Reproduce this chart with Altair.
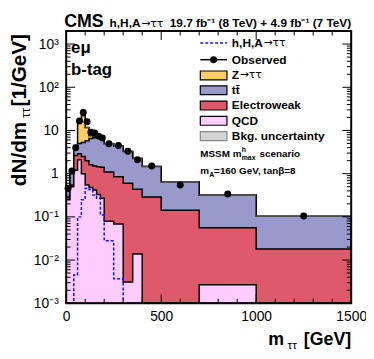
import altair as alt
import pandas as pd
import numpy as np

# ---- data (dN/dm in 1/GeV) ----
edges = [0, 20, 40, 60, 80, 100, 120, 140, 160, 180, 200, 250, 300, 350, 400, 500, 700, 1000, 1500]
qcd = [0.25, 0.50, 1.20, 2.10, 1.00, 0.55, 0.48, 0.42, 0.33, 0.27, 0.079, 0.068, 0.0031, 0.0138, 0, 0, 0.0027, 0]
ewk = [0.03, 0.05, 1.45, 0.80, 1.50, 1.45, 1.12, 1.08, 1.12, 1.13, 1.02, 0.78, 0.60, 0.42, 0.29, 0.142, 0.053, 0.018]
ttbar = [0.12, 0.55, 1.65, 2.10, 2.80, 3.80, 4.90, 5.30, 5.45, 5.10, 3.80, 3.45, 2.65, 1.80, 1.17, 0.50, 0.262, 0.085]
ztt = [0.005, 0.05, 0.20, 11.6, 16.7, 5.9, 1.0, 0.5, 0.2, 0.1, 0.05, 0.03, 0.02, 0.01, 0.01, 0.005, 0.002, 0.001]
signal = [0, 0, 0.0045, 0.10, 0.25, 0.46, 0.43, 0.32, 0.27, 0.11, 0.028, 0.0037, 0, 0, 0, 0, 0, 0]
observed = [0.46, 1.15, 4.0, 16.6, 26, 16, 9.1, 8.7, 7.4, 6.7, 4.9, 4.5, 3.3, 2.1, 1.5, 0.55, 0.34, 0.105]
unc_frac = 0.05

x_tick_labels = [0, 500, 1000, 1500]
y_tick_values = [1e-3, 1e-2, 1e-1, 1, 10, 100, 1000]

FONT = "Liberation Sans"
SYM = "DejaVu Sans"
W, H = 289, 276
YMIN, YMAX = 0.001, 2000
C_ZTT, C_TT, C_EWK, C_QCD = "#FFCC66", "#9999CC", "#DE5A6A", "#FFCCFF"

lo = np.array(edges[:-1], float)
hi = np.array(edges[1:], float)
qc_top = np.array(qcd)
ew_top = qc_top + np.array(ewk)
tt_top = ew_top + np.array(ttbar)
tot_top = tt_top + np.array(ztt)


def step_df(vals):
    v = np.maximum(np.asarray(vals, float), YMIN)
    return pd.DataFrame({"x": edges, "y": list(v) + [v[-1]]})


xs = alt.Scale(domain=[0, 1500], nice=False, zero=False)
ys = alt.Scale(type="log", domain=[YMIN, YMAX], nice=False)

label_expr = ("datum.value >= 999 ? '10³' : datum.value >= 99 ? '10²' : datum.value >= 9 ? '10' : "
              "datum.value >= 0.9 ? '1' : datum.value >= 0.09 ? '10⁻¹' : datum.value >= 0.009 ? '10⁻²' : '10⁻³'")
xaxis = alt.Axis(values=x_tick_labels, ticks=False, domain=False, grid=False, title=None,
                 labelFont=FONT, labelFontSize=14, labelColor="black", labelPadding=6,
                 labelFlush=False, format="d", labelOverlap=False)
yaxis = alt.Axis(values=y_tick_values, ticks=False, domain=False, grid=False, title=None,
                 labelFont=FONT, labelFontSize=14, labelColor="black", labelPadding=8,
                 labelFlush=False, labelExpr=label_expr, labelOverlap=False)


def X(f):
    return alt.X(f, scale=xs, axis=xaxis)


def Y(f):
    return alt.Y(f, scale=ys, axis=yaxis)


layers = []
for vals, col in [(tot_top, C_ZTT), (tt_top, C_TT), (ew_top, C_EWK), (qc_top, C_QCD)]:
    layers.append(
        alt.Chart(step_df(vals)).mark_area(interpolate="step-after", color=col, stroke="black",
                                           strokeWidth=1.5, clip=True, opacity=1).encode(
            x=X("x:Q"), y=Y("y:Q"), y2=alt.datum(YMIN))
    )

bins = pd.DataFrame({"lo": lo, "hi": hi, "mid": (lo + hi) / 2, "tot": tot_top,
                     "dn": tot_top * (1 - unc_frac), "up": tot_top * (1 + unc_frac),
                     "obs": observed})

layers.append(alt.Chart(bins).mark_rect(fill="#8c8c8c", opacity=0.55, clip=True).encode(
    x=X("lo:Q"), x2="hi:Q", y=Y("dn:Q"), y2="up:Q"))

layers.append(alt.Chart(step_df(signal)).mark_line(interpolate="step-after", color="#1010FF",
                                                   strokeWidth=1.5, strokeDash=[3, 2], clip=True).encode(
    x=X("x:Q"), y=Y("y:Q")))

layers.append(alt.Chart(bins).mark_circle(color="black", size=50, opacity=1).encode(
    x=X("mid:Q"), y=Y("obs:Q")))

# frame
one = pd.DataFrame({"k": [0]})
layers.append(alt.Chart(one).mark_rect(filled=False, stroke="black", strokeWidth=2).encode(
    x=alt.value(0), x2=alt.value(W), y=alt.value(0), y2=alt.value(H)))

# inner ticks (ROOT style)
ymaj = pd.DataFrame({"v": y_tick_values})
ymin_vals = [m * 10.0 ** k for k in range(-3, 4) for m in range(2, 10) if m * 10.0 ** k <= YMAX]
ymin_df = pd.DataFrame({"v": ymin_vals})
xmaj = pd.DataFrame({"v": [0, 500, 1000, 1500]})
xmin_df = pd.DataFrame({"v": [v for v in range(100, 1500, 100) if v % 500]})
for df, L in [(ymaj, 9), (ymin_df, 4.5)]:
    for a, b in [(0, L), (W - L, W)]:
        layers.append(alt.Chart(df).mark_rule(color="black", strokeWidth=1).encode(
            y=Y("v:Q"), x=alt.value(a), x2=alt.value(b)))
for df, L in [(xmaj, 9), (xmin_df, 4.5)]:
    for a, b in [(H - L, H), (0, L)]:
        layers.append(alt.Chart(df).mark_rule(color="black", strokeWidth=1).encode(
            x=X("v:Q"), y=alt.value(a), y2=alt.value(b)))


def txt(s, x, y, size, bold=True, align="left", baseline="alphabetic", angle=0, color="black", font=FONT):
    return alt.Chart(one).mark_text(text=s, font=font, fontSize=size,
                                    fontWeight="bold" if bold else "normal", align=align,
                                    baseline=baseline, angle=angle, color=color).encode(
        x=alt.value(x), y=alt.value(y))


# header
layers.append(txt("CMS", -2, -4, 18))
layers.append(txt("h,H,A", 44, -4, 12))
layers.append(txt("→ττ", 76, -4, 11, bold=False, font=SYM))
layers.append(txt("19.7 fb⁻¹ (8 TeV) + 4.9 fb⁻¹ (7 TeV)", 289, -4, 12, align="right"))

# category labels
layers.append(txt("eμ", 5, 17, 17, baseline="middle"))
layers.append(txt("b-tag", 5, 40, 17, baseline="middle"))

# axis titles
layers.append(txt("[GeV]", 289, 318, 18, align="right"))
layers.append(txt("ττ", 234, 322, 12, bold=False, align="right"))
layers.append(txt("m", 221, 318, 18, align="right"))

YT = -47
layers.append(txt("[1/GeV]", YT, 3, 21, align="right", baseline="middle", angle=270))
layers.append(txt("ττ", YT + 6, 78, 13, bold=False, align="right", baseline="middle", angle=270))
layers.append(txt("dN/dm", YT, 92, 21, align="right", baseline="middle", angle=270))

# legend
LX0, LX1, LT = 136, 163, 168
layers.append(alt.Chart(one).mark_rule(color="#1010FF", strokeWidth=1.5, strokeDash=[3, 2]).encode(
    x=alt.value(LX0), x2=alt.value(LX1), y=alt.value(12)))
layers.append(txt("h,H,A", LT, 12, 12, baseline="middle"))
layers.append(txt("→ττ", LT + 32, 12, 11, bold=False, baseline="middle", font=SYM))
layers.append(alt.Chart(one).mark_rule(color="black", strokeWidth=1.5).encode(
    x=alt.value(LX0), x2=alt.value(LX1), y=alt.value(29)))
layers.append(alt.Chart(one).mark_circle(color="black", size=50, opacity=1).encode(
    x=alt.value((LX0 + LX1) / 2), y=alt.value(29)))
layers.append(txt("Observed", LT, 29, 12, baseline="middle"))
for yc, col, lab, strk in [(45, C_ZTT, "Z", "black"), (60, C_TT, "tt\u0304", "black"),
                           (75.5, C_EWK, "Electroweak", "black"), (91, C_QCD, "QCD", "black"),
                           (106.5, "#d4d4d4", "Bkg. uncertainty", "#888888")]:
    layers.append(alt.Chart(one).mark_rect(fill=col, stroke=strk, strokeWidth=1.2).encode(
        x=alt.value(LX0), x2=alt.value(LX1), y=alt.value(yc - 4.5), y2=alt.value(yc + 4.5)))
    layers.append(txt(lab, LT, yc, 12, baseline="middle"))
layers.append(txt("→ττ", LT + 8, 45, 11, bold=False, baseline="middle", font=SYM))

# scenario text
layers.append(txt("MSSM m", 136, 128, 10))
layers.append(txt("h", 178, 123, 7))
layers.append(txt("max", 178, 131, 7))
layers.append(txt("scenario", 196, 128, 10))
layers.append(txt("m", 136, 145, 10))
layers.append(txt("A", 145, 148, 7))
layers.append(txt("=160 GeV, tanβ=8", 150, 145, 10))

chart = alt.layer(*layers).properties(
    width=W, height=H,
    padding={"left": 59, "top": 21, "right": 15, "bottom": 46},
    autosize=alt.AutoSizeParams(type="none"),
).configure_view(strokeWidth=0)

chart.save("out.html", embed_options={"renderer": "svg", "actions": False})
